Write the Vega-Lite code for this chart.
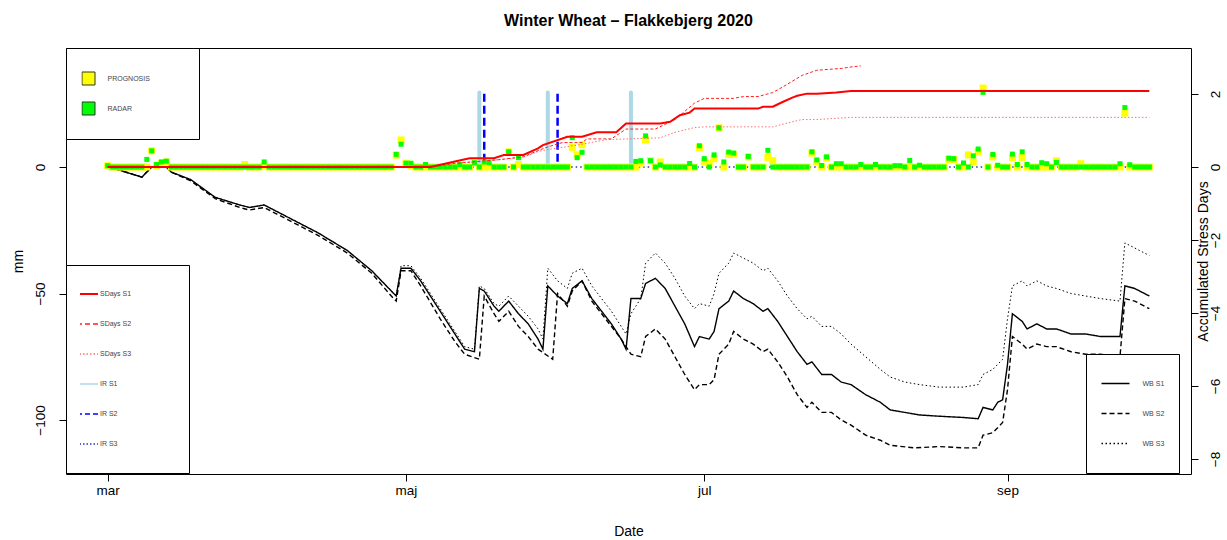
{
"$schema": "https://vega.github.io/schema/vega-lite/v6.json",
"width": 1125, "height": 426,
"autosize": "none",
"padding": {"left": 66, "top": 48, "right": 36, "bottom": 66},
"background": "white",
"title": {"text": "Winter Wheat – Flakkebjerg 2020", "fontSize": 16, "fontWeight": "bold", "font": "Liberation Sans", "color": "black", "anchor": "middle", "frame": "group", "baseline": "alphabetic", "offset": 6},
"config": {
  "view": {"stroke": "black", "strokeWidth": 1},
  "font": "Liberation Sans",
  "axis": {"grid": false, "domain": false, "tickColor": "black", "tickSize": 7, "tickWidth": 1, "labelColor": "black", "titleColor": "black", "labelFont": "Liberation Sans", "labelFontSize": 13.5, "titleFont": "Liberation Sans", "titleFontSize": 14, "titleFontWeight": "normal"},
  "legend": {"labelFont": "Liberation Sans", "labelFontSize": 7, "labelColor": "#444", "strokeColor": "black", "fillColor": "white", "cornerRadius": 0, "rowPadding": 0, "clipHeight": 30, "symbolOffset": 0}
},
"datasets": {
  "sq": [
    {"d":"2020/03/01","p":0.5,"r":0.5},{"d":"2020/03/02","p":0,"r":0},{"d":"2020/03/03","p":0,"r":0},{"d":"2020/03/04","p":0,"r":0},{"d":"2020/03/05","p":0,"r":0},{"d":"2020/03/06","p":0,"r":0},{"d":"2020/03/07","p":0,"r":0},{"d":"2020/03/08","p":0,"r":0},{"d":"2020/03/09","p":0,"r":3},{"d":"2020/03/10","p":6.4,"r":6.4},
    {"d":"2020/03/11","p":0.5,"r":1},{"d":"2020/03/12","p":1.5,"r":2},{"d":"2020/03/13","p":2,"r":2.3},{"d":"2020/03/14","p":0,"r":0},{"d":"2020/03/15","p":0,"r":0},{"d":"2020/03/16","p":0,"r":0},{"d":"2020/03/17","p":0,"r":0},{"d":"2020/03/18","p":0,"r":0},{"d":"2020/03/19","p":0,"r":0},{"d":"2020/03/20","p":0,"r":0},
    {"d":"2020/03/21","p":0,"r":0},{"d":"2020/03/22","p":0,"r":0},{"d":"2020/03/23","p":0,"r":0},{"d":"2020/03/24","p":0,"r":0},{"d":"2020/03/25","p":0,"r":0},{"d":"2020/03/26","p":0,"r":0},{"d":"2020/03/27","p":0,"r":0},{"d":"2020/03/28","p":0,"r":0},{"d":"2020/03/29","p":1,"r":0},{"d":"2020/03/30","p":0,"r":0},{"d":"2020/03/31","p":0,"r":0},
    {"d":"2020/04/01","p":0,"r":0},{"d":"2020/04/02","p":0.5,"r":2},{"d":"2020/04/03","p":0,"r":0},{"d":"2020/04/04","p":0,"r":0},{"d":"2020/04/05","p":0,"r":0},{"d":"2020/04/06","p":0,"r":0},{"d":"2020/04/07","p":0,"r":0},{"d":"2020/04/08","p":0,"r":0},{"d":"2020/04/09","p":0,"r":0},{"d":"2020/04/10","p":0,"r":0},
    {"d":"2020/04/11","p":0,"r":0},{"d":"2020/04/12","p":0,"r":0},{"d":"2020/04/13","p":0,"r":0},{"d":"2020/04/14","p":0,"r":0},{"d":"2020/04/15","p":0,"r":0},{"d":"2020/04/16","p":0,"r":0},{"d":"2020/04/17","p":0,"r":0},{"d":"2020/04/18","p":0,"r":0},{"d":"2020/04/19","p":0,"r":0},{"d":"2020/04/20","p":0,"r":0},
    {"d":"2020/04/21","p":0,"r":0},{"d":"2020/04/22","p":0,"r":0},{"d":"2020/04/23","p":0,"r":0},{"d":"2020/04/24","p":0,"r":0},{"d":"2020/04/25","p":0,"r":0},{"d":"2020/04/26","p":0,"r":0},{"d":"2020/04/27","p":0,"r":0},{"d":"2020/04/28","p":0,"r":0},{"d":"2020/04/29","p":4.7,"r":5},{"d":"2020/04/30","p":10.7,"r":9},
    {"d":"2020/05/01","p":1.5,"r":1.5},{"d":"2020/05/02","p":0.5,"r":1.5},{"d":"2020/05/03","p":0,"r":0},{"d":"2020/05/04","p":0,"r":0},{"d":"2020/05/05","p":0,"r":1},{"d":"2020/05/06","p":0,"r":0},{"d":"2020/05/07","p":0,"r":0},{"d":"2020/05/08","p":0,"r":0},{"d":"2020/05/09","p":0,"r":0},{"d":"2020/05/10","p":0,"r":0},
    {"d":"2020/05/11","p":0,"r":0},{"d":"2020/05/12","p":0,"r":1},{"d":"2020/05/13","p":0,"r":0},{"d":"2020/05/14","p":0,"r":0},{"d":"2020/05/15","p":1.7,"r":1.7},{"d":"2020/05/16","p":0,"r":0},{"d":"2020/05/17","p":0,"r":2},{"d":"2020/05/18","p":0,"r":1.7},{"d":"2020/05/19","p":0,"r":0},{"d":"2020/05/20","p":0,"r":0},
    {"d":"2020/05/21","p":0,"r":0},{"d":"2020/05/22","p":6,"r":6},{"d":"2020/05/23","p":0,"r":0},{"d":"2020/05/24","p":1,"r":3.7},{"d":"2020/05/25","p":0,"r":0},{"d":"2020/05/26","p":0,"r":0},{"d":"2020/05/27","p":0,"r":0},{"d":"2020/05/28","p":0,"r":0},{"d":"2020/05/29","p":0,"r":0},{"d":"2020/05/30","p":0,"r":0},{"d":"2020/05/31","p":0,"r":0},
    {"d":"2020/06/01","p":0,"r":0},{"d":"2020/06/02","p":0,"r":0},{"d":"2020/06/03","p":0,"r":0},{"d":"2020/06/04","p":7.8,"r":11.6},{"d":"2020/06/05","p":4.8,"r":3.7},{"d":"2020/06/06","p":8.8,"r":5.8},{"d":"2020/06/07","p":0,"r":0},{"d":"2020/06/08","p":0,"r":0},{"d":"2020/06/09","p":0,"r":0},{"d":"2020/06/10","p":0,"r":0},
    {"d":"2020/06/11","p":0,"r":0},{"d":"2020/06/12","p":0,"r":0},{"d":"2020/06/13","p":0,"r":0},{"d":"2020/06/14","p":0,"r":0},{"d":"2020/06/15","p":0,"r":0},{"d":"2020/06/16","p":0,"r":0},{"d":"2020/06/17","p":0,"r":2.2},{"d":"2020/06/18","p":1.5,"r":2.5},{"d":"2020/06/19","p":10.7,"r":12.3},{"d":"2020/06/20","p":2.5,"r":2.5},
    {"d":"2020/06/21","p":0,"r":0},{"d":"2020/06/22","p":2,"r":0.8},{"d":"2020/06/23","p":0,"r":0},{"d":"2020/06/24","p":0,"r":0},{"d":"2020/06/25","p":0,"r":0},{"d":"2020/06/26","p":0,"r":0},{"d":"2020/06/27","p":0,"r":0},{"d":"2020/06/28","p":0,"r":1.4},{"d":"2020/06/29","p":0,"r":0},{"d":"2020/06/30","p":7.6,"r":8.4},
    {"d":"2020/07/01","p":2,"r":3.3},{"d":"2020/07/02","p":1.5,"r":0},{"d":"2020/07/03","p":3.3,"r":4.8},{"d":"2020/07/04","p":15.5,"r":15.5},{"d":"2020/07/05","p":0,"r":2},{"d":"2020/07/06","p":5,"r":5.9},{"d":"2020/07/07","p":5,"r":5.5},{"d":"2020/07/08","p":0,"r":0},{"d":"2020/07/09","p":0,"r":0},{"d":"2020/07/10","p":4,"r":4.2},
    {"d":"2020/07/11","p":0,"r":0},{"d":"2020/07/12","p":0,"r":0},{"d":"2020/07/13","p":0,"r":0},{"d":"2020/07/14","p":3.8,"r":6.6},{"d":"2020/07/15","p":2.5,"r":0},{"d":"2020/07/16","p":0,"r":0},{"d":"2020/07/17","p":0,"r":0},{"d":"2020/07/18","p":0,"r":0},{"d":"2020/07/19","p":0,"r":0},{"d":"2020/07/20","p":0,"r":0},
    {"d":"2020/07/21","p":0,"r":0},{"d":"2020/07/22","p":0,"r":0},{"d":"2020/07/23","p":5.5,"r":6},{"d":"2020/07/24","p":2,"r":2.8},{"d":"2020/07/25","p":0,"r":0.6},{"d":"2020/07/26","p":3.5,"r":4},{"d":"2020/07/27","p":0,"r":0},{"d":"2020/07/28","p":0,"r":1.3},{"d":"2020/07/29","p":0,"r":1.3},{"d":"2020/07/30","p":0,"r":0},{"d":"2020/07/31","p":0,"r":0},
    {"d":"2020/08/01","p":0,"r":0},{"d":"2020/08/02","p":0,"r":1},{"d":"2020/08/03","p":0,"r":0},{"d":"2020/08/04","p":0,"r":0},{"d":"2020/08/05","p":0,"r":1},{"d":"2020/08/06","p":0,"r":0},{"d":"2020/08/07","p":0,"r":0},{"d":"2020/08/08","p":0,"r":0},{"d":"2020/08/09","p":0,"r":0.5},{"d":"2020/08/10","p":0,"r":0.5},
    {"d":"2020/08/11","p":0,"r":0},{"d":"2020/08/12","p":0,"r":2.6},{"d":"2020/08/13","p":0,"r":0},{"d":"2020/08/14","p":0,"r":0.7},{"d":"2020/08/15","p":0,"r":0},{"d":"2020/08/16","p":0,"r":0},{"d":"2020/08/17","p":0,"r":0},{"d":"2020/08/18","p":0,"r":0},{"d":"2020/08/19","p":0,"r":0},{"d":"2020/08/20","p":3,"r":3.5},
    {"d":"2020/08/21","p":3,"r":3.3},{"d":"2020/08/22","p":0,"r":0},{"d":"2020/08/23","p":0,"r":1.6},{"d":"2020/08/24","p":4.8,"r":0},{"d":"2020/08/25","p":2,"r":4.4},{"d":"2020/08/26","p":6,"r":7.1},{"d":"2020/08/27","p":31.2,"r":29.5},{"d":"2020/08/28","p":0,"r":0},{"d":"2020/08/29","p":4,"r":5},{"d":"2020/08/30","p":0,"r":0.7},{"d":"2020/08/31","p":0,"r":0},
    {"d":"2020/09/01","p":0,"r":0},{"d":"2020/09/02","p":3.7,"r":5.1},{"d":"2020/09/03","p":0,"r":1},{"d":"2020/09/04","p":3.8,"r":6},{"d":"2020/09/05","p":0,"r":1},{"d":"2020/09/06","p":0,"r":0},{"d":"2020/09/07","p":0,"r":0},{"d":"2020/09/08","p":0,"r":1.7},{"d":"2020/09/09","p":0,"r":1.3},{"d":"2020/09/10","p":0,"r":0},
    {"d":"2020/09/11","p":2.5,"r":1.8},{"d":"2020/09/12","p":0,"r":0},{"d":"2020/09/13","p":0,"r":0},{"d":"2020/09/14","p":0,"r":0},{"d":"2020/09/15","p":0,"r":0},{"d":"2020/09/16","p":1.3,"r":0},{"d":"2020/09/17","p":0,"r":0},{"d":"2020/09/18","p":0,"r":0},{"d":"2020/09/19","p":0,"r":0},{"d":"2020/09/20","p":0,"r":0},
    {"d":"2020/09/21","p":0,"r":0},{"d":"2020/09/22","p":0,"r":0},{"d":"2020/09/23","p":0,"r":0},{"d":"2020/09/24","p":0,"r":1.3},{"d":"2020/09/25","p":21.3,"r":23.5},{"d":"2020/09/26","p":0,"r":0.9},{"d":"2020/09/27","p":0,"r":0},{"d":"2020/09/28","p":0,"r":0},{"d":"2020/09/29","p":0,"r":0},{"d":"2020/09/30","p":0,"r":0}
  ],
  "wb1": [
    {"d":"2020/03/01","v":0},{"d":"2020/03/03","v":-1},{"d":"2020/03/08","v":-4},{"d":"2020/03/10","v":0},{"d":"2020/03/13","v":0},{"d":"2020/03/14","v":-2},{"d":"2020/03/18","v":-5},{"d":"2020/03/23","v":-12},{"d":"2020/03/28","v":-15},{"d":"2020/03/30","v":-16},
    {"d":"2020/04/02","v":-15},{"d":"2020/04/04","v":-17},{"d":"2020/04/09","v":-22},{"d":"2020/04/13","v":-26},{"d":"2020/04/19","v":-33},{"d":"2020/04/24","v":-41},{"d":"2020/04/28","v":-49},{"d":"2020/04/29","v":-51},{"d":"2020/04/30","v":-40},
    {"d":"2020/05/02","v":-40},{"d":"2020/05/04","v":-45},{"d":"2020/05/08","v":-57},{"d":"2020/05/11","v":-66},{"d":"2020/05/13","v":-72},{"d":"2020/05/15","v":-73},{"d":"2020/05/16","v":-48},{"d":"2020/05/17","v":-49},{"d":"2020/05/19","v":-55},{"d":"2020/05/20","v":-57},{"d":"2020/05/22","v":-53},{"d":"2020/05/24","v":-58},{"d":"2020/05/26","v":-62},{"d":"2020/05/28","v":-68},{"d":"2020/05/29","v":-72},{"d":"2020/05/30","v":-47},
    {"d":"2020/06/01","v":-51},{"d":"2020/06/03","v":-54},{"d":"2020/06/04","v":-48},{"d":"2020/06/06","v":-45},{"d":"2020/06/08","v":-52},{"d":"2020/06/10","v":-57},{"d":"2020/06/12","v":-62},{"d":"2020/06/14","v":-68},{"d":"2020/06/15","v":-72},{"d":"2020/06/16","v":-52},{"d":"2020/06/18","v":-52},{"d":"2020/06/19","v":-46},{"d":"2020/06/21","v":-44},{"d":"2020/06/23","v":-48},{"d":"2020/06/25","v":-55},{"d":"2020/06/27","v":-62},{"d":"2020/06/29","v":-71},{"d":"2020/06/30","v":-67},
    {"d":"2020/07/02","v":-68},{"d":"2020/07/03","v":-65},{"d":"2020/07/04","v":-56},{"d":"2020/07/06","v":-53},{"d":"2020/07/07","v":-49},{"d":"2020/07/09","v":-52},{"d":"2020/07/11","v":-54},{"d":"2020/07/13","v":-57},{"d":"2020/07/14","v":-56},{"d":"2020/07/16","v":-61},{"d":"2020/07/18","v":-67},{"d":"2020/07/20","v":-73},{"d":"2020/07/22","v":-78},{"d":"2020/07/23","v":-77},{"d":"2020/07/25","v":-82},{"d":"2020/07/27","v":-82},{"d":"2020/07/29","v":-85},{"d":"2020/07/31","v":-86},
    {"d":"2020/08/03","v":-90},{"d":"2020/08/06","v":-93},{"d":"2020/08/08","v":-96},{"d":"2020/08/11","v":-97},{"d":"2020/08/14","v":-98},{"d":"2020/08/18","v":-98.5},{"d":"2020/08/23","v":-99},{"d":"2020/08/26","v":-99.5},{"d":"2020/08/27","v":-95},{"d":"2020/08/29","v":-96},{"d":"2020/08/30","v":-93},{"d":"2020/08/31","v":-92},
    {"d":"2020/09/01","v":-78},{"d":"2020/09/02","v":-58},{"d":"2020/09/04","v":-61},{"d":"2020/09/05","v":-64},{"d":"2020/09/07","v":-62},{"d":"2020/09/09","v":-64},{"d":"2020/09/11","v":-64},{"d":"2020/09/14","v":-66},{"d":"2020/09/17","v":-66},{"d":"2020/09/20","v":-67},{"d":"2020/09/24","v":-67},{"d":"2020/09/25","v":-47},{"d":"2020/09/27","v":-48},{"d":"2020/09/30","v":-51}
  ],
  "wb2": [
    {"d":"2020/03/01","v":0},{"d":"2020/03/03","v":-1},{"d":"2020/03/08","v":-4},{"d":"2020/03/10","v":0},{"d":"2020/03/13","v":0},{"d":"2020/03/14","v":-2},{"d":"2020/03/18","v":-5.5},{"d":"2020/03/23","v":-12.5},{"d":"2020/03/28","v":-16},{"d":"2020/03/30","v":-17},
    {"d":"2020/04/02","v":-16},{"d":"2020/04/04","v":-18},{"d":"2020/04/09","v":-23},{"d":"2020/04/13","v":-27},{"d":"2020/04/19","v":-34},{"d":"2020/04/24","v":-42},{"d":"2020/04/28","v":-51},{"d":"2020/04/29","v":-53},{"d":"2020/04/30","v":-41},
    {"d":"2020/05/02","v":-41},{"d":"2020/05/04","v":-47},{"d":"2020/05/08","v":-60},{"d":"2020/05/11","v":-69},{"d":"2020/05/13","v":-74},{"d":"2020/05/16","v":-76},{"d":"2020/05/17","v":-51},{"d":"2020/05/19","v":-58},{"d":"2020/05/20","v":-61},{"d":"2020/05/22","v":-57},{"d":"2020/05/24","v":-63},{"d":"2020/05/26","v":-67},{"d":"2020/05/28","v":-72},{"d":"2020/05/31","v":-76},
    {"d":"2020/06/01","v":-50},{"d":"2020/06/03","v":-55},{"d":"2020/06/04","v":-49},{"d":"2020/06/06","v":-45},{"d":"2020/06/08","v":-53},{"d":"2020/06/10","v":-58},{"d":"2020/06/12","v":-63},{"d":"2020/06/14","v":-68},{"d":"2020/06/16","v":-74},{"d":"2020/06/18","v":-75},{"d":"2020/06/19","v":-67},{"d":"2020/06/21","v":-64},{"d":"2020/06/23","v":-68},{"d":"2020/06/25","v":-75},{"d":"2020/06/27","v":-82},{"d":"2020/06/29","v":-88},{"d":"2020/06/30","v":-86},
    {"d":"2020/07/02","v":-86},{"d":"2020/07/03","v":-84},{"d":"2020/07/04","v":-74},{"d":"2020/07/06","v":-70},{"d":"2020/07/07","v":-65},{"d":"2020/07/09","v":-68},{"d":"2020/07/11","v":-70},{"d":"2020/07/13","v":-73},{"d":"2020/07/14","v":-72},{"d":"2020/07/16","v":-77},{"d":"2020/07/18","v":-83},{"d":"2020/07/20","v":-90},{"d":"2020/07/22","v":-95},{"d":"2020/07/23","v":-93},{"d":"2020/07/25","v":-97},{"d":"2020/07/27","v":-97},{"d":"2020/07/29","v":-100},{"d":"2020/07/31","v":-102},
    {"d":"2020/08/03","v":-106},{"d":"2020/08/06","v":-108},{"d":"2020/08/08","v":-110},{"d":"2020/08/13","v":-111},{"d":"2020/08/18","v":-110.5},{"d":"2020/08/23","v":-111},{"d":"2020/08/26","v":-111},{"d":"2020/08/27","v":-106},{"d":"2020/08/29","v":-105},{"d":"2020/08/31","v":-101},
    {"d":"2020/09/01","v":-88},{"d":"2020/09/02","v":-67},{"d":"2020/09/04","v":-70},{"d":"2020/09/05","v":-72},{"d":"2020/09/07","v":-70},{"d":"2020/09/09","v":-71},{"d":"2020/09/11","v":-71},{"d":"2020/09/14","v":-73},{"d":"2020/09/17","v":-74},{"d":"2020/09/20","v":-74},{"d":"2020/09/24","v":-75},{"d":"2020/09/25","v":-52},{"d":"2020/09/27","v":-53},{"d":"2020/09/30","v":-56}
  ],
  "wb3": [
    {"d":"2020/03/01","v":0},{"d":"2020/03/03","v":-1},{"d":"2020/03/08","v":-4},{"d":"2020/03/10","v":0},{"d":"2020/03/13","v":0},{"d":"2020/03/14","v":-2},{"d":"2020/03/18","v":-5},{"d":"2020/03/23","v":-12},{"d":"2020/03/28","v":-15},{"d":"2020/03/30","v":-16},
    {"d":"2020/04/02","v":-15},{"d":"2020/04/04","v":-17},{"d":"2020/04/09","v":-22},{"d":"2020/04/13","v":-26},{"d":"2020/04/19","v":-33},{"d":"2020/04/24","v":-41},{"d":"2020/04/28","v":-49},{"d":"2020/04/29","v":-51},{"d":"2020/04/30","v":-39},
    {"d":"2020/05/02","v":-39},{"d":"2020/05/04","v":-44},{"d":"2020/05/08","v":-56},{"d":"2020/05/11","v":-65},{"d":"2020/05/13","v":-71},{"d":"2020/05/15","v":-72},{"d":"2020/05/16","v":-47},{"d":"2020/05/17","v":-48},{"d":"2020/05/19","v":-54},{"d":"2020/05/20","v":-55},{"d":"2020/05/22","v":-51},{"d":"2020/05/24","v":-55},{"d":"2020/05/26","v":-59},{"d":"2020/05/28","v":-64},{"d":"2020/05/29","v":-68},{"d":"2020/05/30","v":-40},
    {"d":"2020/06/01","v":-45},{"d":"2020/06/03","v":-48},{"d":"2020/06/04","v":-42},{"d":"2020/06/06","v":-40},{"d":"2020/06/08","v":-47},{"d":"2020/06/10","v":-52},{"d":"2020/06/12","v":-57},{"d":"2020/06/14","v":-63},{"d":"2020/06/15","v":-66},{"d":"2020/06/16","v":-58},{"d":"2020/06/18","v":-52},{"d":"2020/06/19","v":-38},{"d":"2020/06/21","v":-34},{"d":"2020/06/23","v":-38},{"d":"2020/06/25","v":-44},{"d":"2020/06/27","v":-51},{"d":"2020/06/29","v":-56},{"d":"2020/06/30","v":-54},
    {"d":"2020/07/02","v":-55},{"d":"2020/07/03","v":-50},{"d":"2020/07/04","v":-42},{"d":"2020/07/06","v":-38},{"d":"2020/07/07","v":-34},{"d":"2020/07/09","v":-36},{"d":"2020/07/11","v":-38},{"d":"2020/07/13","v":-41},{"d":"2020/07/14","v":-40},{"d":"2020/07/16","v":-45},{"d":"2020/07/18","v":-51},{"d":"2020/07/20","v":-56},{"d":"2020/07/22","v":-60},{"d":"2020/07/23","v":-59},{"d":"2020/07/25","v":-63},{"d":"2020/07/27","v":-63},{"d":"2020/07/29","v":-66},{"d":"2020/07/31","v":-70},
    {"d":"2020/08/03","v":-75},{"d":"2020/08/06","v":-80},{"d":"2020/08/08","v":-83},{"d":"2020/08/11","v":-85},{"d":"2020/08/14","v":-86},{"d":"2020/08/18","v":-87},{"d":"2020/08/23","v":-87},{"d":"2020/08/26","v":-86},{"d":"2020/08/27","v":-82},{"d":"2020/08/29","v":-80},{"d":"2020/08/31","v":-76},
    {"d":"2020/09/01","v":-60},{"d":"2020/09/02","v":-47},{"d":"2020/09/04","v":-45},{"d":"2020/09/05","v":-47},{"d":"2020/09/07","v":-45},{"d":"2020/09/09","v":-47},{"d":"2020/09/11","v":-48},{"d":"2020/09/14","v":-50},{"d":"2020/09/17","v":-51},{"d":"2020/09/20","v":-52},{"d":"2020/09/24","v":-53},{"d":"2020/09/25","v":-30},{"d":"2020/09/27","v":-32},{"d":"2020/09/30","v":-35}
  ],
  "ir1": [{"d":"2020/05/16","v":29.5},{"d":"2020/05/30","v":29.5},{"d":"2020/06/16","v":29.5}],
  "ir2": [{"d":"2020/05/17","v":29},{"d":"2020/06/01","v":29}],
  "ir3": [{"d":"2020/03/01","v":0},{"d":"2020/09/30","v":0}],
  "sd1": [
    {"d":"2020/03/01","v":0},{"d":"2020/05/06","v":0},{"d":"2020/05/11","v":0.15},{"d":"2020/05/14","v":0.24},{"d":"2020/05/19","v":0.24},{"d":"2020/05/21","v":0.33},{"d":"2020/05/25","v":0.33},{"d":"2020/05/28","v":0.51},{"d":"2020/05/29","v":0.6},
    {"d":"2020/06/03","v":0.83},{"d":"2020/06/06","v":0.83},{"d":"2020/06/09","v":0.95},{"d":"2020/06/13","v":0.95},{"d":"2020/06/15","v":1.19},{"d":"2020/06/22","v":1.19},{"d":"2020/06/24","v":1.24},{"d":"2020/06/26","v":1.42},{"d":"2020/06/28","v":1.49},{"d":"2020/06/29","v":1.6},
    {"d":"2020/07/12","v":1.6},{"d":"2020/07/13","v":1.65},{"d":"2020/07/15","v":1.65},{"d":"2020/07/17","v":1.78},{"d":"2020/07/19","v":1.9},{"d":"2020/07/20","v":1.95},{"d":"2020/07/22","v":2.01},{"d":"2020/07/24","v":2.01},{"d":"2020/07/28","v":2.04},{"d":"2020/07/31","v":2.08},{"d":"2020/09/30","v":2.08}
  ],
  "sd2": [
    {"d":"2020/03/01","v":0},{"d":"2020/05/06","v":0},{"d":"2020/05/11","v":0.1},{"d":"2020/05/20","v":0.2},{"d":"2020/05/25","v":0.28},{"d":"2020/05/28","v":0.45},{"d":"2020/05/30","v":0.55},
    {"d":"2020/06/02","v":0.67},{"d":"2020/06/06","v":0.67},{"d":"2020/06/07","v":0.77},{"d":"2020/06/12","v":0.77},{"d":"2020/06/15","v":1.04},{"d":"2020/06/21","v":1.04},{"d":"2020/06/25","v":1.3},{"d":"2020/06/29","v":1.75},
    {"d":"2020/07/01","v":1.88},{"d":"2020/07/07","v":1.88},{"d":"2020/07/09","v":1.93},{"d":"2020/07/12","v":1.93},{"d":"2020/07/15","v":2.04},{"d":"2020/07/17","v":2.19},{"d":"2020/07/21","v":2.51},{"d":"2020/07/24","v":2.65},{"d":"2020/07/29","v":2.7},{"d":"2020/07/31","v":2.74},{"d":"2020/08/02","v":2.77}
  ],
  "sd3": [
    {"d":"2020/03/01","v":0},{"d":"2020/05/06","v":0},{"d":"2020/05/11","v":0.1},{"d":"2020/05/20","v":0.2},{"d":"2020/05/25","v":0.27},{"d":"2020/05/28","v":0.42},{"d":"2020/05/30","v":0.48},
    {"d":"2020/06/05","v":0.6},{"d":"2020/06/11","v":0.75},{"d":"2020/06/22","v":0.8},{"d":"2020/06/25","v":0.95},{"d":"2020/06/29","v":1.08},
    {"d":"2020/07/01","v":1.1},{"d":"2020/07/15","v":1.1},{"d":"2020/07/19","v":1.24},{"d":"2020/07/21","v":1.3},{"d":"2020/07/24","v":1.3},{"d":"2020/07/31","v":1.36},{"d":"2020/09/30","v":1.36}
  ]
},
"encoding": {
  "x": {"field": "d", "type": "temporal",
    "scale": {"domain": [{"year": 2020, "month": 2, "date": 21, "hours": 11, "minutes": 31}, {"year": 2020, "month": 10, "date": 8, "hours": 12, "minutes": 29}]},
    "axis": {"title": "Date", "values": [{"year": 2020, "month": 3, "date": 1}, {"year": 2020, "month": 5, "date": 1}, {"year": 2020, "month": 7, "date": 1}, {"year": 2020, "month": 9, "date": 1}],
      "labelExpr": "['jan','feb','mar','apr','maj','jun','jul','aug','sep','okt','nov','dec'][month(datum.value)]",
      "labelBaseline": "alphabetic", "labelPadding": 13.5, "labelFlush": false, "labelOverlap": false,
      "titleY": 61, "titleBaseline": "alphabetic", "titleAnchor": "middle"}}
},
"layer": [
  {"layer": [
    {"data": {"name": "wb1"}, "mark": {"type": "line", "color": "black", "strokeWidth": 1.4},
     "encoding": {
       "y": {"field": "v", "type": "quantitative", "scale": {"domain": [-121.34, 47.04], "nice": false, "zero": false},
         "axis": {"orient": "left", "title": "mm", "values": [0, -50, -100], "labelAngle": 270, "labelAlign": "center", "labelBaseline": "bottom", "labelPadding": 12, "titleAngle": 270, "titleX": -48, "titleY": 213, "titleAlign": "center", "titleBaseline": "middle"}},
       "strokeDash": {"datum": "WB S1", "type": "nominal", "scale": {"domain": ["WB S1", "WB S2", "WB S3"], "range": [[1, 0], [5, 3], [1.5, 2.5]]},
         "legend": {"orient": "none", "legendX": 1020, "legendY": 306, "title": null, "padding": 14.5, "symbolType": "stroke", "symbolSize": 784, "symbolStrokeColor": "black", "symbolStrokeWidth": 1.3, "labelOffset": 12,
           "labelExpr": "datum.label + '\u00a0\u00a0\u00a0\u00a0\u00a0\u00a0\u00a0'"}}}},
    {"data": {"name": "wb2"}, "mark": {"type": "line", "color": "black", "strokeWidth": 1.4},
     "encoding": {
       "y": {"field": "v", "type": "quantitative", "scale": {"domain": [-121.34, 47.04], "nice": false, "zero": false}},
       "strokeDash": {"datum": "WB S2", "type": "nominal", "scale": {"domain": ["WB S1", "WB S2", "WB S3"], "range": [[1, 0], [5, 3], [1.5, 2.5]]}}}},
    {"data": {"name": "wb3"}, "mark": {"type": "line", "color": "black", "strokeWidth": 1},
     "encoding": {
       "y": {"field": "v", "type": "quantitative", "scale": {"domain": [-121.34, 47.04], "nice": false, "zero": false}},
       "strokeDash": {"datum": "WB S3", "type": "nominal", "scale": {"domain": ["WB S1", "WB S2", "WB S3"], "range": [[1, 0], [5, 3], [1.5, 2.5]]}}}},
    {"data": {"name": "ir3"}, "mark": {"type": "line", "strokeWidth": 1.5, "strokeDash": [1.5, 3]},
     "encoding": {
       "y": {"field": "v", "type": "quantitative", "scale": {"domain": [-121.34, 47.04], "nice": false, "zero": false}},
       "color": {"datum": "IR S3", "type": "nominal", "scale": {"domain": ["SDays S1", "SDays S2", "SDays S3", "IR S1", "IR S2", "IR S3"], "range": ["#ff0000", "#ff2020", "#ff7070", "#add8e6", "#0000ff", "#3030c0"]},
         "legend": {"orient": "none", "legendX": 0, "legendY": 217, "title": "\u00a0", "titleOrient": "right", "titlePadding": 44, "titleFontSize": 1, "padding": 14, "symbolType": "stroke", "symbolSize": 841, "labelOffset": 13,
           "symbolDash": {"expr": "(datum.value == 'SDays S2' || datum.value == 'IR S2') ? [5, 3] : ((datum.value == 'SDays S3' || datum.value == 'IR S3') ? [1.5, 2] : [1, 0])"},
           "symbolStrokeWidth": {"expr": "datum.value == 'SDays S1' ? 2 : 1.5"}}}}},
    {"data": {"name": "ir1"}, "mark": {"type": "rule", "strokeWidth": 4, "strokeCap": "round"},
     "encoding": {
       "y": {"field": "v", "type": "quantitative", "scale": {"domain": [-121.34, 47.04], "nice": false, "zero": false}},
       "y2": {"datum": 0},
       "color": {"datum": "IR S1", "type": "nominal", "scale": {"domain": ["SDays S1", "SDays S2", "SDays S3", "IR S1", "IR S2", "IR S3"], "range": ["#ff0000", "#ff2020", "#ff7070", "#add8e6", "#0000ff", "#3030c0"]}}}},
    {"data": {"name": "ir2"}, "mark": {"type": "rule", "strokeWidth": 2.5, "strokeDash": [8, 4]},
     "encoding": {
       "y": {"field": "v", "type": "quantitative", "scale": {"domain": [-121.34, 47.04], "nice": false, "zero": false}},
       "y2": {"datum": 0},
       "color": {"datum": "IR S2", "type": "nominal", "scale": {"domain": ["SDays S1", "SDays S2", "SDays S3", "IR S1", "IR S2", "IR S3"], "range": ["#ff0000", "#ff2020", "#ff7070", "#add8e6", "#0000ff", "#3030c0"]}}}},
    {"data": {"name": "sq"}, "mark": {"type": "point", "shape": "square", "filled": true, "size": 49, "opacity": 1, "strokeWidth": 0},
     "encoding": {
       "y": {"field": "p", "type": "quantitative", "scale": {"domain": [-121.34, 47.04], "nice": false, "zero": false}},
       "fill": {"datum": "PROGNOSIS", "type": "nominal", "scale": {"domain": ["PROGNOSIS", "RADAR"], "range": ["#ffff00", "#00ff00"]},
         "legend": {"orient": "none", "legendX": 0, "legendY": 0, "title": "\u00a0", "titleOrient": "right", "titlePadding": 34, "titleFontSize": 1, "padding": 15.5, "symbolType": "square", "symbolSize": 169, "symbolStrokeColor": "#333", "symbolStrokeWidth": 1, "labelOffset": 12}}}},
    {"data": {"name": "sq"}, "mark": {"type": "point", "shape": "square", "filled": true, "size": 25, "opacity": 1, "strokeWidth": 0},
     "encoding": {
       "y": {"field": "r", "type": "quantitative", "scale": {"domain": [-121.34, 47.04], "nice": false, "zero": false}},
       "fill": {"datum": "RADAR", "type": "nominal", "scale": {"domain": ["PROGNOSIS", "RADAR"], "range": ["#ffff00", "#00ff00"]}}}}
  ]},
  {"layer": [
    {"data": {"name": "sd3"}, "mark": {"type": "line", "strokeWidth": 1, "strokeDash": [1.5, 2]},
     "encoding": {
       "y": {"field": "v", "type": "quantitative", "scale": {"domain": [-8.41, 3.26], "nice": false, "zero": false},
         "axis": {"orient": "right", "title": "Accumulated Stress Days", "values": [2, 0, -2, -4, -6, -8], "labelAngle": 270, "labelAlign": "center", "labelBaseline": "top", "labelPadding": 10, "titleAngle": 270, "titleX": 12, "titleY": 213, "titleAlign": "center", "titleBaseline": "middle"}},
       "color": {"datum": "SDays S3", "type": "nominal", "scale": {"domain": ["SDays S1", "SDays S2", "SDays S3", "IR S1", "IR S2", "IR S3"], "range": ["#ff0000", "#ff2020", "#ff7070", "#add8e6", "#0000ff", "#3030c0"]}}}},
    {"data": {"name": "sd2"}, "mark": {"type": "line", "strokeWidth": 1, "strokeDash": [3, 2]},
     "encoding": {
       "y": {"field": "v", "type": "quantitative", "scale": {"domain": [-8.41, 3.26], "nice": false, "zero": false}},
       "color": {"datum": "SDays S2", "type": "nominal", "scale": {"domain": ["SDays S1", "SDays S2", "SDays S3", "IR S1", "IR S2", "IR S3"], "range": ["#ff0000", "#ff2020", "#ff7070", "#add8e6", "#0000ff", "#3030c0"]}}}},
    {"data": {"name": "sd1"}, "mark": {"type": "line", "strokeWidth": 2},
     "encoding": {
       "y": {"field": "v", "type": "quantitative", "scale": {"domain": [-8.41, 3.26], "nice": false, "zero": false}},
       "color": {"datum": "SDays S1", "type": "nominal", "scale": {"domain": ["SDays S1", "SDays S2", "SDays S3", "IR S1", "IR S2", "IR S3"], "range": ["#ff0000", "#ff2020", "#ff7070", "#add8e6", "#0000ff", "#3030c0"]}}}}
  ]}
],
"resolve": {"scale": {"y": "independent"}, "axis": {"y": "independent"}}
}
